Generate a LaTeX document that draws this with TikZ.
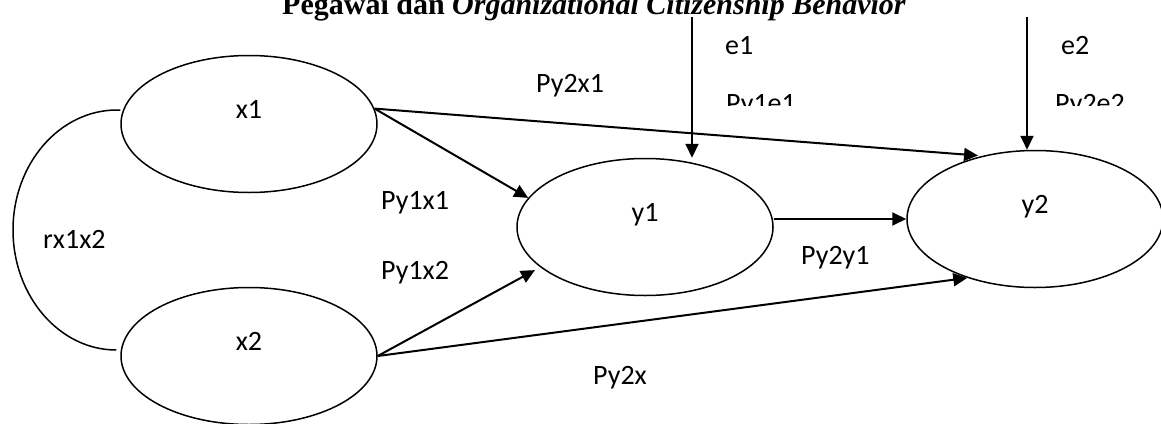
\documentclass[tikz,border=0pt]{standalone}
\usepackage{fontspec}
\setmainfont{Carlito}
\newfontfamily\titlefont{Liberation Serif}
\usetikzlibrary{arrows.meta,shapes.geometric}

\begin{document}
\begin{tikzpicture}[x=1pt,y=-1pt,
  latent/.style={draw, ellipse, line width=1.5pt, minimum width=256pt,
    minimum height=137pt, inner sep=0pt, text height=10pt, text depth=22pt,
    font=\fontsize{28}{32}\selectfont},
  patharrow/.style={line width=2pt, -{Triangle[length=14pt,width=13pt]}},
  corr/.style={line width=1.5pt},
  coef/.style={font=\fontsize{28}{32}\selectfont, inner sep=0pt, anchor=base west}]

% page frame
\clip (0,0) rectangle (1161,423);

% heading (top part runs off the page)
\node[font=\titlefont\fontsize{30}{36}\selectfont\bfseries, anchor=base west,
  inner sep=0pt] (title) at (282,14)
  {Pegawai dan \textit{Organizational Citizenship Behavior}};

% latent variables
\node[latent] (x1) at (249,124) {x1};
\node[latent] (x2) at (249,356) {x2};
\node[latent] (y1) at (645,227) {y1};
\node[latent] (y2) at (1035,219) {y2};

% correlation between x1 and x2
\coordinate (c1) at ([yshift=14pt]x1.west);
\coordinate (c2) at ([xshift=-4pt,yshift=6pt]x2.west);
\draw[corr] (c1) -- (117,110) .. controls (59.6,110) and (13,163.7) .. (13,230)
  .. controls (13,296.3) and (59.6,350) .. (c2);

% causal paths
\draw[patharrow] (x1.7) -- (y1.166);
\draw[patharrow, shorten >=4pt] (x1.7) -- (y2.130);
\draw[patharrow, shorten >=6pt] (x2.east) -- (y1.201);
\draw[patharrow] (x2.east) -- (y2.221);
\draw[patharrow] (y1.east |- y2.west) -- (y2.west);

% residual paths
\coordinate (e1s) at (692,17);
\coordinate (e2s) at (1027,17);
\draw[patharrow] (e1s) -- (e1s |- y1.north);
\draw[patharrow] (e2s) -- (e2s |- y2.north);

% coefficient labels
\node[coef] (e1) at (725,54.5) {e1};
\node[coef] (e2) at (1061,54.5) {e2};
\node[coef] (py2x1) at (536,92.5) {Py2x1};
\node[coef] (py1x1) at (381,209.5) {Py1x1};
\node[coef] (py1x2) at (381,279.5) {Py1x2};
\node[coef] (rx1x2) at (43,248) {rx1x2};
\node[coef] (py2y1) at (801,264.5) {Py2y1};
\node[coef] (py2x) at (593,384.5) {Py2x};

% residual coefficients, cut off below
\begin{scope}
  \clip (700,60) rectangle (1161,105);
  \node[coef] (py1e1) at (726,112.5) {Py1e1};
  \node[coef] (py2e2) at (1055,112.5) {Py2e2};
\end{scope}
\end{tikzpicture}
\end{document}
